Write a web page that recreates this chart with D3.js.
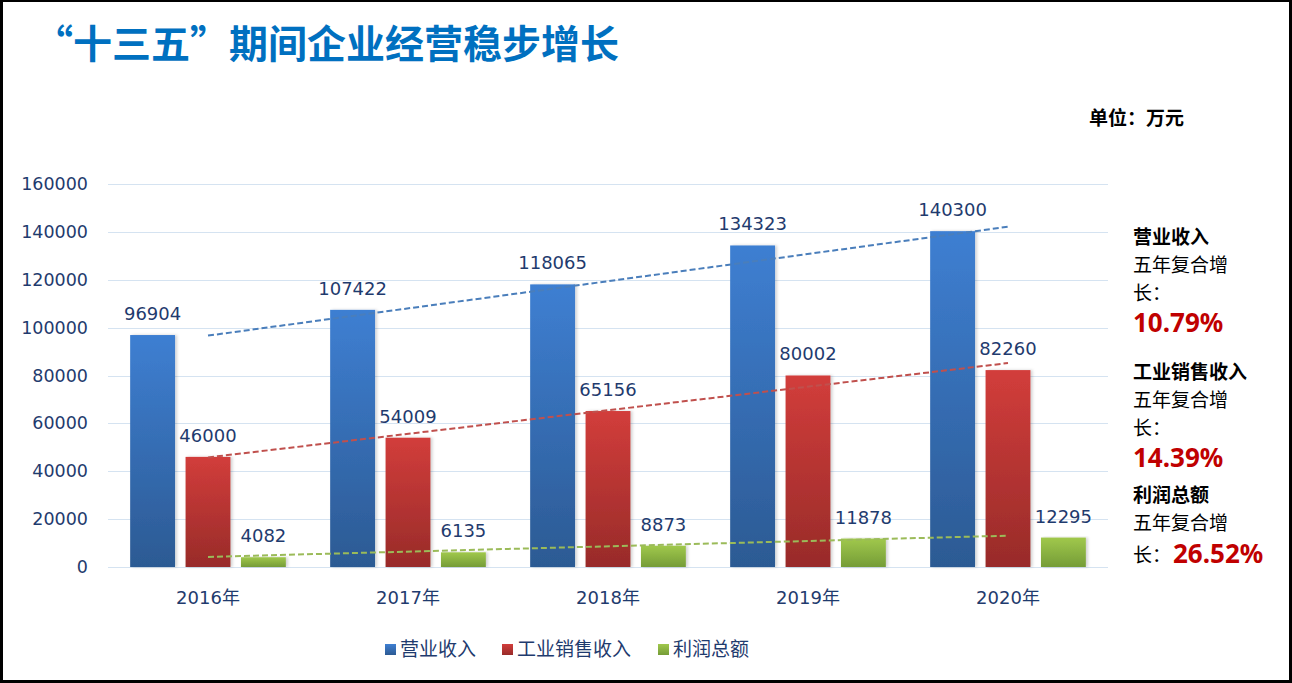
<!DOCTYPE html>
<html>
<head>
<meta charset="utf-8">
<script src="https://cdn.jsdelivr.net/npm/d3@7"></script>
<style>
  html, body { margin: 0; padding: 0; background: #fff; }
  #chart { width: 1292px; height: 683px; box-sizing: border-box;
           border: 3px solid #000; border-top-width: 2px; overflow: hidden; }
  svg { display: block; }
</style>
</head>
<body>
<div id="chart"></div>
<script>
const years = ["2016年", "2017年", "2018年", "2019年", "2020年"];
const seriesNames = ["营业收入", "工业销售收入", "利润总额"];
const revenue = [96904, 107422, 118065, 134323, 140300];
const sales = [46000, 54009, 65156, 80002, 82260];
const profit = [4082, 6135, 8873, 11878, 12295];
const yTicks = [0, 20000, 40000, 60000, 80000, 100000, 120000, 140000, 160000];
const growth = ["10.79%", "14.39%", "26.52%"];

const series = [revenue, sales, profit];
const colors = [
  { top: "#3e7fd2", bottom: "#2c5a93", trend: "#4a7ebb" },
  { top: "#d23d3b", bottom: "#982b29", trend: "#c0504d" },
  { top: "#a0c84c", bottom: "#759c37", trend: "#9bbb59" }
];
const navy = "#1f3b6e";
const cjk = "'Noto Sans CJK SC', 'Noto Sans', sans-serif";
const num = "'DejaVu Sans', 'Noto Sans CJK SC', sans-serif";
const pctFont = "'Noto Sans', 'Open Sans', sans-serif";

// the container has borders, so the svg sits 3px in; g shifts back to page coords
const svg = d3.select("#chart").append("svg")
  .attr("width", 1286).attr("height", 678);
const g = svg.append("g").attr("transform", "translate(-3,-2)");

const defs = svg.append("defs");
colors.forEach((c, i) => {
  let lg = defs.append("linearGradient").attr("id", "grad" + i)
    .attr("x1", 0).attr("y1", 0).attr("x2", 0).attr("y2", 1);
  lg.append("stop").attr("offset", "0%").attr("stop-color", c.top);
  lg.append("stop").attr("offset", "100%").attr("stop-color", c.bottom);
});
let shadow = defs.append("filter").attr("id", "shadow")
  .attr("x", "-20%").attr("y", "-5%").attr("width", "150%").attr("height", "110%");
shadow.append("feDropShadow").attr("dx", 2).attr("dy", 0).attr("stdDeviation", 1.5)
  .attr("flood-color", "#000").attr("flood-opacity", 0.18);

let plotLeft = 108, plotRight = 1108, plotTop = 184, plotBottom = 567;

let x = d3.scaleBand().domain(years).range([plotLeft, plotRight]).paddingInner(0).paddingOuter(0);
let xs = d3.scaleBand().domain(d3.range(3)).range([0, x.bandwidth()]).paddingInner(0.19).paddingOuter(0.4);
let y = d3.scaleLinear().domain([0, 160000]).range([plotBottom, plotTop]);

// title
g.append("text").attr("x", 34).attr("y", 58)
  .attr("font-family", cjk).attr("font-size", 39).attr("font-weight", "bold")
  .attr("fill", "#0070c0").text("“十三五”期间企业经营稳步增长");

g.append("text").attr("x", 1089).attr("y", 125)
  .attr("font-family", cjk).attr("font-size", 19).attr("font-weight", "bold")
  .attr("fill", "#000").text("单位：万元");

// grid
g.append("g").selectAll("line").data(yTicks).enter().append("line")
  .attr("x1", plotLeft).attr("x2", plotRight)
  .attr("y1", d => Math.round(y(d)) + 0.5).attr("y2", d => Math.round(y(d)) + 0.5)
  .attr("stroke", "#d5e3f1").attr("stroke-width", 1);

// y axis labels
let yAxis = g.append("g").attr("transform", "translate(" + plotLeft + ",0)")
  .call(d3.axisLeft(y).tickValues(yTicks).tickFormat(d3.format("d")).tickSize(0).tickPadding(20));
yAxis.select(".domain").remove();
yAxis.selectAll("text").attr("font-family", num).attr("font-size", 17.5).attr("fill", navy);

// x axis labels
let xAxis = g.append("g").attr("transform", "translate(0," + plotBottom + ")")
  .call(d3.axisBottom(x).tickSize(0).tickPadding(24));
xAxis.select(".domain").remove();
xAxis.selectAll("text").attr("font-family", num).attr("font-size", 18).attr("fill", navy);

// bars
series.forEach((vals, si) => {
  let sg = g.append("g");
  sg.selectAll("rect").data(vals).enter().append("rect")
    .attr("x", (d, i) => x(years[i]) + xs(si))
    .attr("width", xs.bandwidth())
    .attr("y", d => y(d))
    .attr("height", d => y(0) - y(d))
    .attr("fill", "url(#grad" + si + ")")
    .attr("filter", "url(#shadow)");
  sg.selectAll("text").data(vals).enter().append("text")
    .attr("x", (d, i) => x(years[i]) + xs(si) + xs.bandwidth() / 2)
    .attr("y", d => y(d) - 15)
    .attr("text-anchor", "middle")
    .attr("font-family", num).attr("font-size", 18).attr("fill", navy)
    .text(d => d);
});

// linear trend lines, from least squares on each series
series.forEach((vals, si) => {
  let n = vals.length;
  let mx = (n - 1) / 2, my = d3.mean(vals);
  let sxy = d3.sum(vals, (v, i) => (i - mx) * (v - my));
  let sxx = d3.sum(vals, (v, i) => (i - mx) * (i - mx));
  let slope = sxy / sxx;
  let ends = [0, n - 1].map(i => [x(years[i]) + x.bandwidth() / 2, y(my + slope * (i - mx))]);
  g.append("line")
    .attr("x1", ends[0][0]).attr("y1", ends[0][1])
    .attr("x2", ends[1][0]).attr("y2", ends[1][1])
    .attr("stroke", colors[si].trend).attr("stroke-width", 2)
    .attr("stroke-dasharray", "6,3");
});

// legend
let legendX = [385, 502, 658];
seriesNames.forEach((name, i) => {
  g.append("rect").attr("x", legendX[i]).attr("y", 644).attr("width", 11).attr("height", 11)
    .attr("fill", "url(#grad" + i + ")");
  g.append("text").attr("x", legendX[i] + 15).attr("y", 656)
    .attr("font-family", cjk).attr("font-size", 19).attr("fill", navy).text(name);
});

// growth notes: baselines of name, "五年复合增", "长：", percentage
let noteLines = [[244, 272, 300, 332], [379, 407, 435, 467], [502, 530, 562, 563]];
seriesNames.forEach((name, i) => {
  let b = noteLines[i];
  g.append("text").attr("x", 1133).attr("y", b[0])
    .attr("font-family", cjk).attr("font-size", 19).attr("font-weight", "bold")
    .attr("fill", "#000").text(name);
  g.append("text").attr("x", 1133).attr("y", b[1])
    .attr("font-family", cjk).attr("font-size", 19).attr("fill", "#000").text("五年复合增");
  g.append("text").attr("x", 1133).attr("y", b[2])
    .attr("font-family", cjk).attr("font-size", 19).attr("fill", "#000").text("长：");
  g.append("text").attr("x", i < 2 ? 1133 : 1173).attr("y", b[3])
    .attr("font-family", pctFont).attr("font-size", 26).attr("font-weight", "bold")
    .attr("fill", "#c00000").text(growth[i]);
});
</script>
</body>
</html>
